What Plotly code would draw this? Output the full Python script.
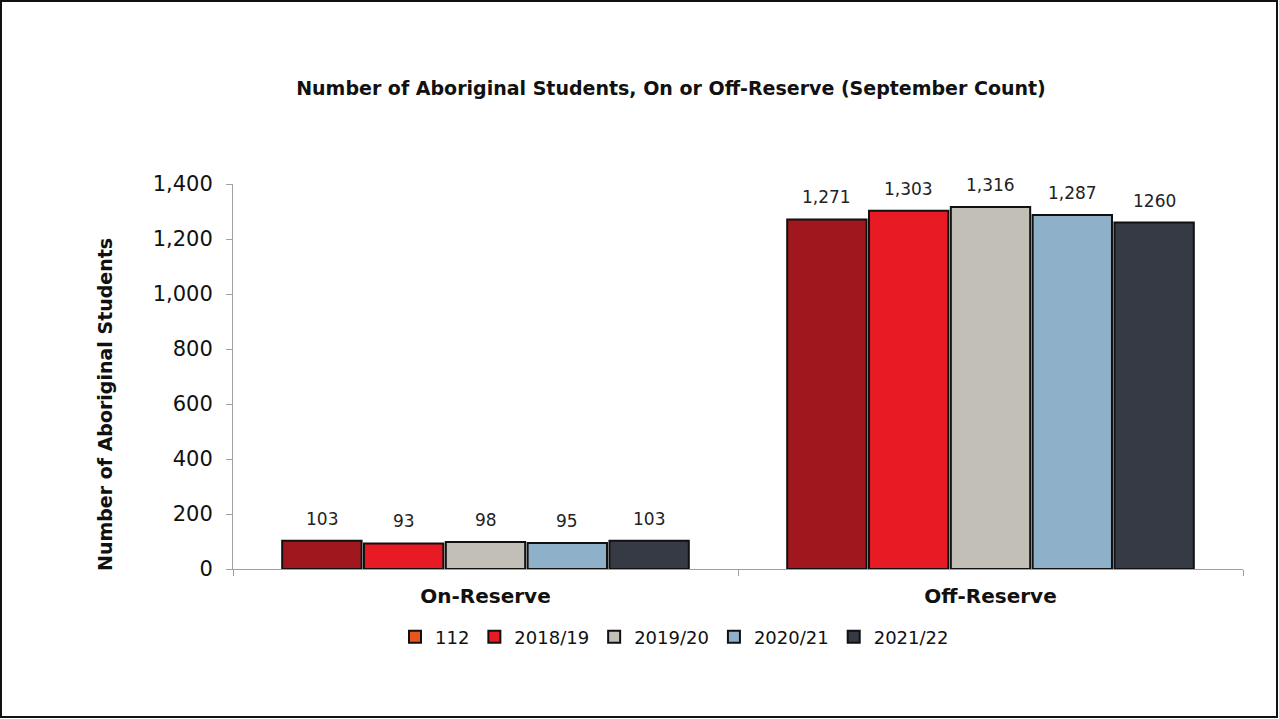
import plotly.graph_objects as go

categories = ["On-Reserve", "Off-Reserve"]
series_names = ["2017/18", "2018/19", "2019/20", "2020/21", "2021/22"]
legend_names = ["112", "2018/19", "2019/20", "2020/21", "2021/22"]
values = [
    [103, 1271],
    [93, 1303],
    [98, 1316],
    [95, 1287],
    [103, 1260],
]
labels = [
    ["103", "1,271"],
    ["93", "1,303"],
    ["98", "1,316"],
    ["95", "1,287"],
    ["103", "1260"],
]
colors = ["#A0181E", "#E81A24", "#C2BFB7", "#8FB0C9", "#353A45"]
legend_first_color = "#E8561C"

FONT = "DejaVu Sans, Liberation Sans, Arial"
W, H = 1279, 719
L, R, T, B = 233, 36, 184, 150
pw, ph = W - L - R, H - T - B
BARGAP = 0.19

def px_x(p):
    return (p - L) / pw

def px_y(p):
    return (H - B - p) / ph

fig = go.Figure()
for i, (name, vals, col) in enumerate(zip(series_names, values, colors)):
    fig.add_trace(go.Bar(
        x=categories, y=vals, name=name,
        marker=dict(color=col, line=dict(color="#111111", width=2)),
        offsetgroup=str(i), showlegend=(i != 0), legendrank=i + 2,
    ))
# legend entry for the first series as shown in the source (label "112", orange swatch)
fig.add_trace(go.Bar(
    x=categories, y=[None, None], name=legend_names[0],
    marker=dict(color=legend_first_color, line=dict(color="#111111", width=2)),
    offsetgroup="0", showlegend=True, legendrank=1, hoverinfo="skip",
))

# value labels above each bar
n = len(series_names)
slot = (pw / len(categories)) * (1 - BARGAP) / n
for i in range(n):
    for j, cat in enumerate(categories):
        fig.add_annotation(
            x=cat, y=values[i][j], text=labels[i][j],
            xref="x", yref="y", showarrow=False,
            xshift=(i - (n - 1) / 2) * slot, yshift=10, yanchor="bottom",
            font=dict(size=17, color="#222222", family=FONT),
        )

fig.update_layout(
    width=W, height=H,
    margin=dict(l=L, r=R, t=T, b=B),
    paper_bgcolor="white", plot_bgcolor="white",
    barmode="group", bargap=BARGAP, bargroupgap=0.03,
    font=dict(family=FONT, color="#111111"),
    title=dict(text="<b>Number of Aboriginal Students, On or Off-Reserve (September Count)</b>",
               x=671 / W, xanchor="center", y=1 - 88 / H, yanchor="middle",
               font=dict(size=19, color="#111111", family=FONT)),
    legend=dict(orientation="h", x=px_x(395), xanchor="left", y=px_y(637), yanchor="middle",
                font=dict(size=18, color="#111111", family=FONT), traceorder="normal",
                itemwidth=30, tracegroupgap=0),
    showlegend=True,
)
fig.update_xaxes(
    showline=True, linecolor="#A0A0A0", linewidth=1,
    ticks="outside", tickson="boundaries", ticklen=6, tickcolor="#A0A0A0",
    tickfont=dict(size=20, color="#111111", family=FONT),
    tickprefix="<b>", ticksuffix="</b>", ticklabelstandoff=9,
)
fig.update_yaxes(
    range=[0, 1400], tickvals=[0, 200, 400, 600, 800, 1000, 1200, 1400],
    tickformat=",", showgrid=False, zeroline=False,
    showline=True, linecolor="#A0A0A0", linewidth=1,
    ticks="outside", ticklen=6, tickcolor="#A0A0A0",
    tickfont=dict(size=21, color="#111111", family=FONT), ticklabelstandoff=9,
)
fig.add_annotation(
    text="<b>Number of Aboriginal Students</b>", textangle=-90,
    xref="paper", yref="paper", x=px_x(92), y=px_y(405),
    showarrow=False, font=dict(size=19, color="#111111", family=FONT),
)
fig.add_shape(type="rect", xref="paper", yref="paper",
              x0=px_x(1), x1=px_x(1277), y0=px_y(717), y1=px_y(1),
              line=dict(color="#111111", width=2), fillcolor="rgba(0,0,0,0)", layer="below")

fig.write_html("out.html", config={"displayModeBar": False},
               post_script="document.body.style.margin='0';document.body.style.overflow='hidden';")
